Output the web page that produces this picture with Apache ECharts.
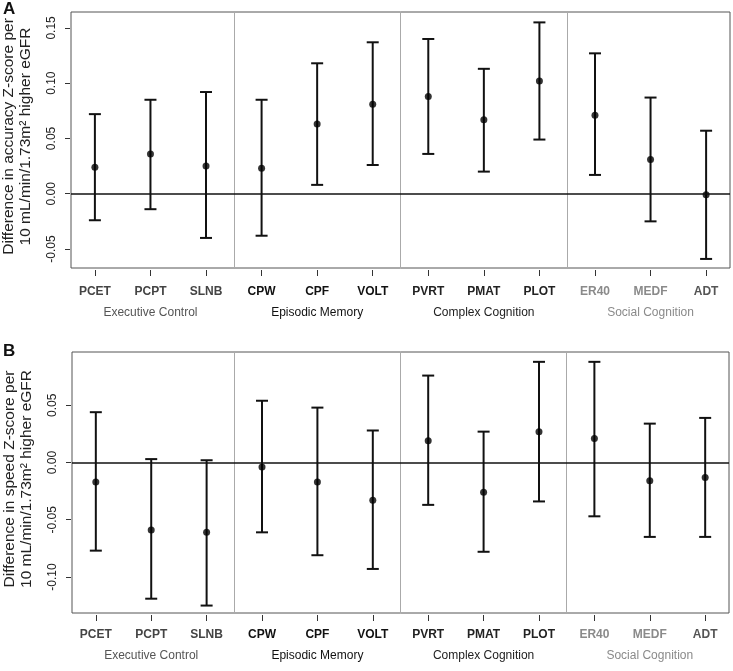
<!DOCTYPE html>
<html>
<head>
<meta charset="utf-8">
<script src="https://cdn.jsdelivr.net/npm/echarts@6/dist/echarts.min.js"></script>
<style>
html,body{margin:0;padding:0;background:#fff;}
#chart{width:733px;height:671px;}
</style>
</head>
<body>
<div id="chart"></div>
<script>
// ---- data ----
const categories = ['PCET','PCPT','SLNB','CPW','CPF','VOLT','PVRT','PMAT','PLOT','ER40','MEDF','ADT'];
const groups = ['Executive Control','Episodic Memory','Complex Cognition','Social Cognition'];
const groupCenters = [1, 4, 7, 10];
const groupSeparators = [2.5, 5.5, 8.5];

const accEst = [0.024, 0.036, 0.025, 0.023, 0.063, 0.081, 0.088, 0.067, 0.102, 0.071, 0.031, -0.001];
const accLo  = [-0.024, -0.014, -0.040, -0.038, 0.008, 0.026, 0.036, 0.020, 0.049, 0.017, -0.025, -0.059];
const accHi  = [0.072, 0.085, 0.092, 0.085, 0.118, 0.137, 0.140, 0.113, 0.155, 0.127, 0.087, 0.057];

const spdEst = [-0.017, -0.059, -0.061, -0.004, -0.017, -0.033, 0.019, -0.026, 0.027, 0.021, -0.016, -0.013];
const spdLo  = [-0.077, -0.119, -0.125, -0.061, -0.081, -0.093, -0.037, -0.078, -0.034, -0.047, -0.065, -0.065];
const spdHi  = [0.044, 0.003, 0.002, 0.054, 0.048, 0.028, 0.076, 0.027, 0.088, 0.088, 0.034, 0.039];

const yTicksA = [-0.05, 0.00, 0.05, 0.10, 0.15];
const yTicksB = [-0.10, -0.05, 0.00, 0.05];

const yTitleA = 'Difference in accuracy Z-score per\n10 mL/min/1.73m\u00B2 higher eGFR';
const yTitleB = 'Difference in speed Z-score per\n10 mL/min/1.73m\u00B2 higher eGFR';

// ---- styles ----
const FONT = '"Liberation Sans", Arial, sans-serif';
const catColor = ['#444','#444','#444','#111','#111','#111','#222','#222','#222','#8a8a8a','#8a8a8a','#555'];
const groupColor = ['#555','#111','#222','#8a8a8a'];
const xIdx = categories.map((c, i) => i);

const chart = echarts.init(document.getElementById('chart'));

function xAxesFor(gi, m1, m2) {
  return [
    {
      type: 'value', gridIndex: gi, min: -0.43, max: 11.43, position: 'bottom', offset: 2,
      axisLine: { show: false, onZero: false },
      splitLine: { show: false },
      axisTick: { show: true, length: 6, customValues: xIdx, lineStyle: { color: '#333', width: 1 } },
      axisLabel: {
        customValues: xIdx, margin: m1,
        formatter: v => categories[Math.round(v)],
        color: (v) => catColor[Math.round(v)],
        fontFamily: FONT, fontSize: 12, fontWeight: 'bold'
      }
    },
    {
      type: 'value', gridIndex: gi, min: -0.43, max: 11.43, position: 'bottom',
      axisLine: { show: false, onZero: false }, splitLine: { show: false }, axisTick: { show: false },
      axisLabel: {
        customValues: groupCenters, margin: m2,
        formatter: v => groups[groupCenters.indexOf(Math.round(v))],
        color: (v) => groupColor[groupCenters.indexOf(Math.round(v))],
        fontFamily: FONT, fontSize: 12
      }
    }
  ];
}

function yAxisFor(gi, min, max, ticks, title) {
  return {
    type: 'value', gridIndex: gi, min: min, max: max, position: 'left', offset: 1,
    axisLine: { show: false, onZero: false }, splitLine: { show: false },
    axisTick: { show: true, length: 5, customValues: ticks, lineStyle: { color: '#333', width: 1 } },
    axisLabel: {
      customValues: ticks, rotate: 90, margin: 12,
      formatter: v => v.toFixed(2),
      color: '#222', fontFamily: FONT, fontSize: 12
    },
    name: title, nameLocation: 'middle', nameRotate: 90, nameGap: 36,
    nameTextStyle: { fontFamily: FONT, fontSize: 15.5, lineHeight: 17, color: '#222', padding: [0, 0, 0, 7] }
  };
}

function errorSeries(xi, yi, lo, hi) {
  return {
    type: 'custom', xAxisIndex: xi, yAxisIndex: yi, silent: true,
    data: categories.map((c, i) => [i, lo[i], hi[i]]),
    encode: { x: 0, y: [1, 2] },
    renderItem: function (params, api) {
      const x = api.value(0);
      const pLo = api.coord([x, api.value(1)]);
      const pHi = api.coord([x, api.value(2)]);
      const hw = 6;
      const st = { stroke: '#111', lineWidth: 2 };
      return {
        type: 'group',
        children: [
          { type: 'line', shape: { x1: pLo[0], y1: pLo[1], x2: pHi[0], y2: pHi[1] }, style: st },
          { type: 'line', shape: { x1: pLo[0] - hw, y1: pLo[1], x2: pLo[0] + hw, y2: pLo[1] }, style: st },
          { type: 'line', shape: { x1: pHi[0] - hw, y1: pHi[1], x2: pHi[0] + hw, y2: pHi[1] }, style: st }
        ]
      };
    },
    markLine: {
      silent: true, symbol: 'none', animation: false,
      label: { show: false },
      data: groupSeparators.map(v => ({ xAxis: v, lineStyle: { color: '#aaa', width: 1, type: 'solid' } }))
        .concat([{ yAxis: 0, lineStyle: { color: '#111', width: 1.6, type: 'solid' } }])
    },
    z: 3
  };
}

function pointSeries(xi, yi, est) {
  return {
    type: 'scatter', xAxisIndex: xi, yAxisIndex: yi, silent: true,
    data: categories.map((c, i) => [i, est[i]]),
    symbol: 'circle', symbolSize: 7,
    itemStyle: { color: '#000' }, z: 4
  };
}

const option = {
  animation: false,
  backgroundColor: '#fff',
  grid: [
    { left: 71, top: 12, right: 3, height: 256, show: true, borderColor: '#555', borderWidth: 1, containLabel: false, outerBoundsMode: 'none' },
    { left: 72, top: 352, right: 4, height: 261, show: true, borderColor: '#555', borderWidth: 1, containLabel: false, outerBoundsMode: 'none' }
  ],
  xAxis: xAxesFor(0, 16, 39).concat(xAxesFor(1, 14, 37)),
  yAxis: [
    yAxisFor(0, -0.0672, 0.1644, yTicksA, yTitleA),
    yAxisFor(1, -0.1315, 0.0966, yTicksB, yTitleB)
  ],
  graphic: [
    { type: 'text', left: 3, top: 1, style: { text: 'A', font: 'bold 17px ' + FONT, fill: '#111' } },
    { type: 'text', left: 3, top: 343, style: { text: 'B', font: 'bold 17px ' + FONT, fill: '#111' } }
  ],
  series: [
    errorSeries(0, 0, accLo, accHi),
    pointSeries(0, 0, accEst),
    errorSeries(2, 1, spdLo, spdHi),
    pointSeries(2, 1, spdEst)
  ]
};
chart.setOption(option);
</script>
</body>
</html>
